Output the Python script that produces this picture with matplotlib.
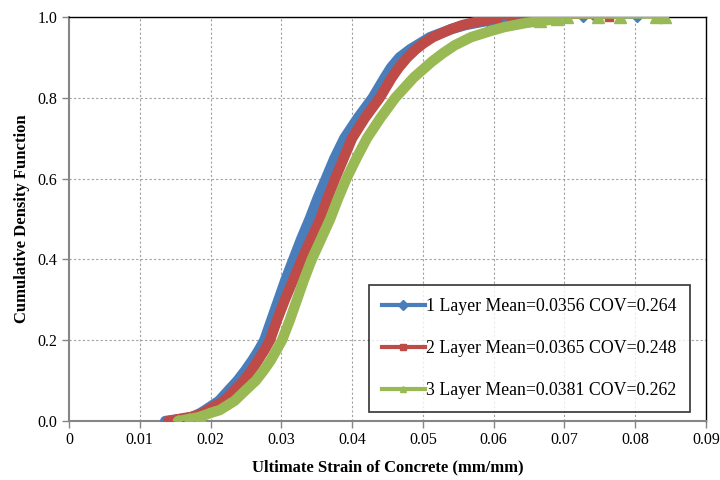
import numpy as np
import matplotlib.pyplot as plt
from matplotlib.lines import Line2D

# CDF levels and strains, one pair of lists per series
cdf_1 = [0.0, 0.005, 0.01, 0.02, 0.03, 0.05, 0.077, 0.10, 0.125, 0.15, 0.175, 0.20,
         0.25, 0.30, 0.35, 0.40, 0.45, 0.50, 0.55, 0.60, 0.65, 0.70, 0.75, 0.80,
         0.85, 0.875, 0.90, 0.92, 0.935, 0.95, 0.96, 0.97, 0.98, 0.99, 0.995,
         1.0, 1.0, 1.0, 1.0]
strain_1 = [0.0136, 0.0160, 0.0175, 0.0186, 0.0195, 0.0212, 0.0226, 0.0238, 0.0249,
            0.0259, 0.0268, 0.0276, 0.0286, 0.0296, 0.0306, 0.0317, 0.0328, 0.0340,
            0.0351, 0.0363, 0.0375, 0.0389, 0.0408, 0.0429, 0.0446, 0.0455, 0.0467,
            0.0482, 0.0496, 0.0510, 0.0525, 0.0540, 0.0560, 0.0590, 0.0620, 0.0660,
            0.0726, 0.0743, 0.0803]

cdf_2 = [0.0, 0.005, 0.01, 0.02, 0.03, 0.05, 0.077, 0.10, 0.125, 0.15, 0.175, 0.20,
         0.25, 0.30, 0.35, 0.40, 0.45, 0.50, 0.55, 0.60, 0.65, 0.70, 0.75, 0.80,
         0.85, 0.875, 0.90, 0.92, 0.935, 0.95, 0.96, 0.97, 0.98, 0.99, 0.997,
         1.0, 1.0, 1.0]
strain_2 = [0.0140, 0.0155, 0.0172, 0.0190, 0.0199, 0.0219, 0.0234, 0.0247, 0.0258,
            0.0267, 0.0276, 0.0284, 0.0294, 0.0305, 0.0317, 0.0329, 0.0342, 0.0355,
            0.0365, 0.0376, 0.0388, 0.0400, 0.0418, 0.0439, 0.0456, 0.0466, 0.0478,
            0.0490, 0.0501, 0.0514, 0.0527, 0.0540, 0.0556, 0.0580, 0.0605, 0.0625,
            0.0665, 0.0763]

cdf_3 = [0.0, 0.005, 0.01, 0.02, 0.027, 0.05, 0.077, 0.10, 0.125, 0.15, 0.175, 0.20,
         0.25, 0.30, 0.35, 0.40, 0.45, 0.50, 0.55, 0.60, 0.65, 0.70, 0.75, 0.80,
         0.825, 0.85, 0.87, 0.89, 0.91, 0.93, 0.95, 0.965, 0.975, 0.985, 0.99,
         0.995, 1.0, 1.0, 1.0, 1.0, 1.0]
strain_3 = [0.0154, 0.0170, 0.0185, 0.0200, 0.0213, 0.0234, 0.0250, 0.0264, 0.0275,
            0.0285, 0.0293, 0.0301, 0.0312, 0.0322, 0.0332, 0.0343, 0.0356, 0.0369,
            0.0380, 0.0392, 0.0406, 0.0421, 0.0440, 0.0461, 0.0474, 0.0487, 0.0500,
            0.0513, 0.0528, 0.0545, 0.0568, 0.0595, 0.0615, 0.0645, 0.0665, 0.0690,
            0.0703, 0.0748, 0.0778, 0.0830, 0.0842]

labels = ["1 Layer Mean=0.0356 COV=0.264",
          "2 Layer Mean=0.0365 COV=0.248",
          "3 Layer Mean=0.0381 COV=0.262"]
colors = ["#4A7EBB", "#BE4B48", "#98B954"]
markers = ["D", "s", "^"]
msizes = [5, 6, 8]

x_ticks = [0, 0.01, 0.02, 0.03, 0.04, 0.05, 0.06, 0.07, 0.08, 0.09]
x_ticklabels = ["0", "0.01", "0.02", "0.03", "0.04", "0.05", "0.06", "0.07", "0.08", "0.09"]
y_ticks = [0.0, 0.2, 0.4, 0.6, 0.8, 1.0]
y_ticklabels = ["0.0", "0.2", "0.4", "0.6", "0.8", "1.0"]

plt.rcParams['font.family'] = ['Liberation Serif', 'DejaVu Serif']

fig = plt.figure(figsize=(7.2, 4.8), dpi=100)
ax = fig.add_axes([0.0958, 0.1229, 0.8848, 0.8417])

series = [(strain_1, cdf_1), (strain_2, cdf_2), (strain_3, cdf_3)]
for (s, c), col, mk, ms in zip(series, colors, markers, msizes):
    s = np.array(s)
    c = np.array(c)
    body = c < 1.0
    tails = (c <= 0.01) | (c >= 0.99)
    # the dense middle of the empirical CDF shows up as a thick band
    ax.plot(s[body], c[body], color=col, lw=7.5, solid_joinstyle='round',
            solid_capstyle='round', zorder=3)
    ax.plot(s, c, color=col, lw=2.5, zorder=3)
    ax.plot(s[tails], c[tails], ls='none', marker=mk, ms=ms, mec=col, mfc=col, zorder=3)

ax.set_xlim(0, 0.09)
ax.set_ylim(0, 1.0)
ax.set_xticks(x_ticks)
ax.set_xticklabels(x_ticklabels)
ax.set_yticks(y_ticks)
ax.set_yticklabels(y_ticklabels)
ax.tick_params(labelsize=11.5, direction='out', length=5, color='#868686', width=1)
ax.tick_params(axis='x', pad=3)

ax.grid(True, color='#a0a0a0', linestyle=(0, (2, 2)), lw=0.8)
ax.set_axisbelow(True)

for side in ['left', 'bottom']:
    ax.spines[side].set_color('#868686')
    ax.spines[side].set_linewidth(1.5)
for side in ['top', 'right']:
    ax.spines[side].set_color('black')
    ax.spines[side].set_linewidth(1.0)

ax.set_xlabel("Ultimate Strain of Concrete (mm/mm)", fontsize=12, fontweight='bold', labelpad=8)
ax.set_ylabel("Cumulative Density Function", fontsize=12, fontweight='bold', labelpad=5)

handles = [Line2D([], [], color=col, lw=3, marker=mk, ms=5) for col, mk in zip(colors, markers)]
leg = ax.legend(handles, labels, loc='lower right', bbox_to_anchor=(0.975, 0.022),
                borderaxespad=0, fontsize=12.75, frameon=True, fancybox=False,
                labelspacing=1.4, handlelength=2.4, handletextpad=0.1,
                borderpad=0.75)
leg.get_frame().set_edgecolor('black')
leg.get_frame().set_linewidth(1.2)

fig.savefig("out.png", dpi=100)
